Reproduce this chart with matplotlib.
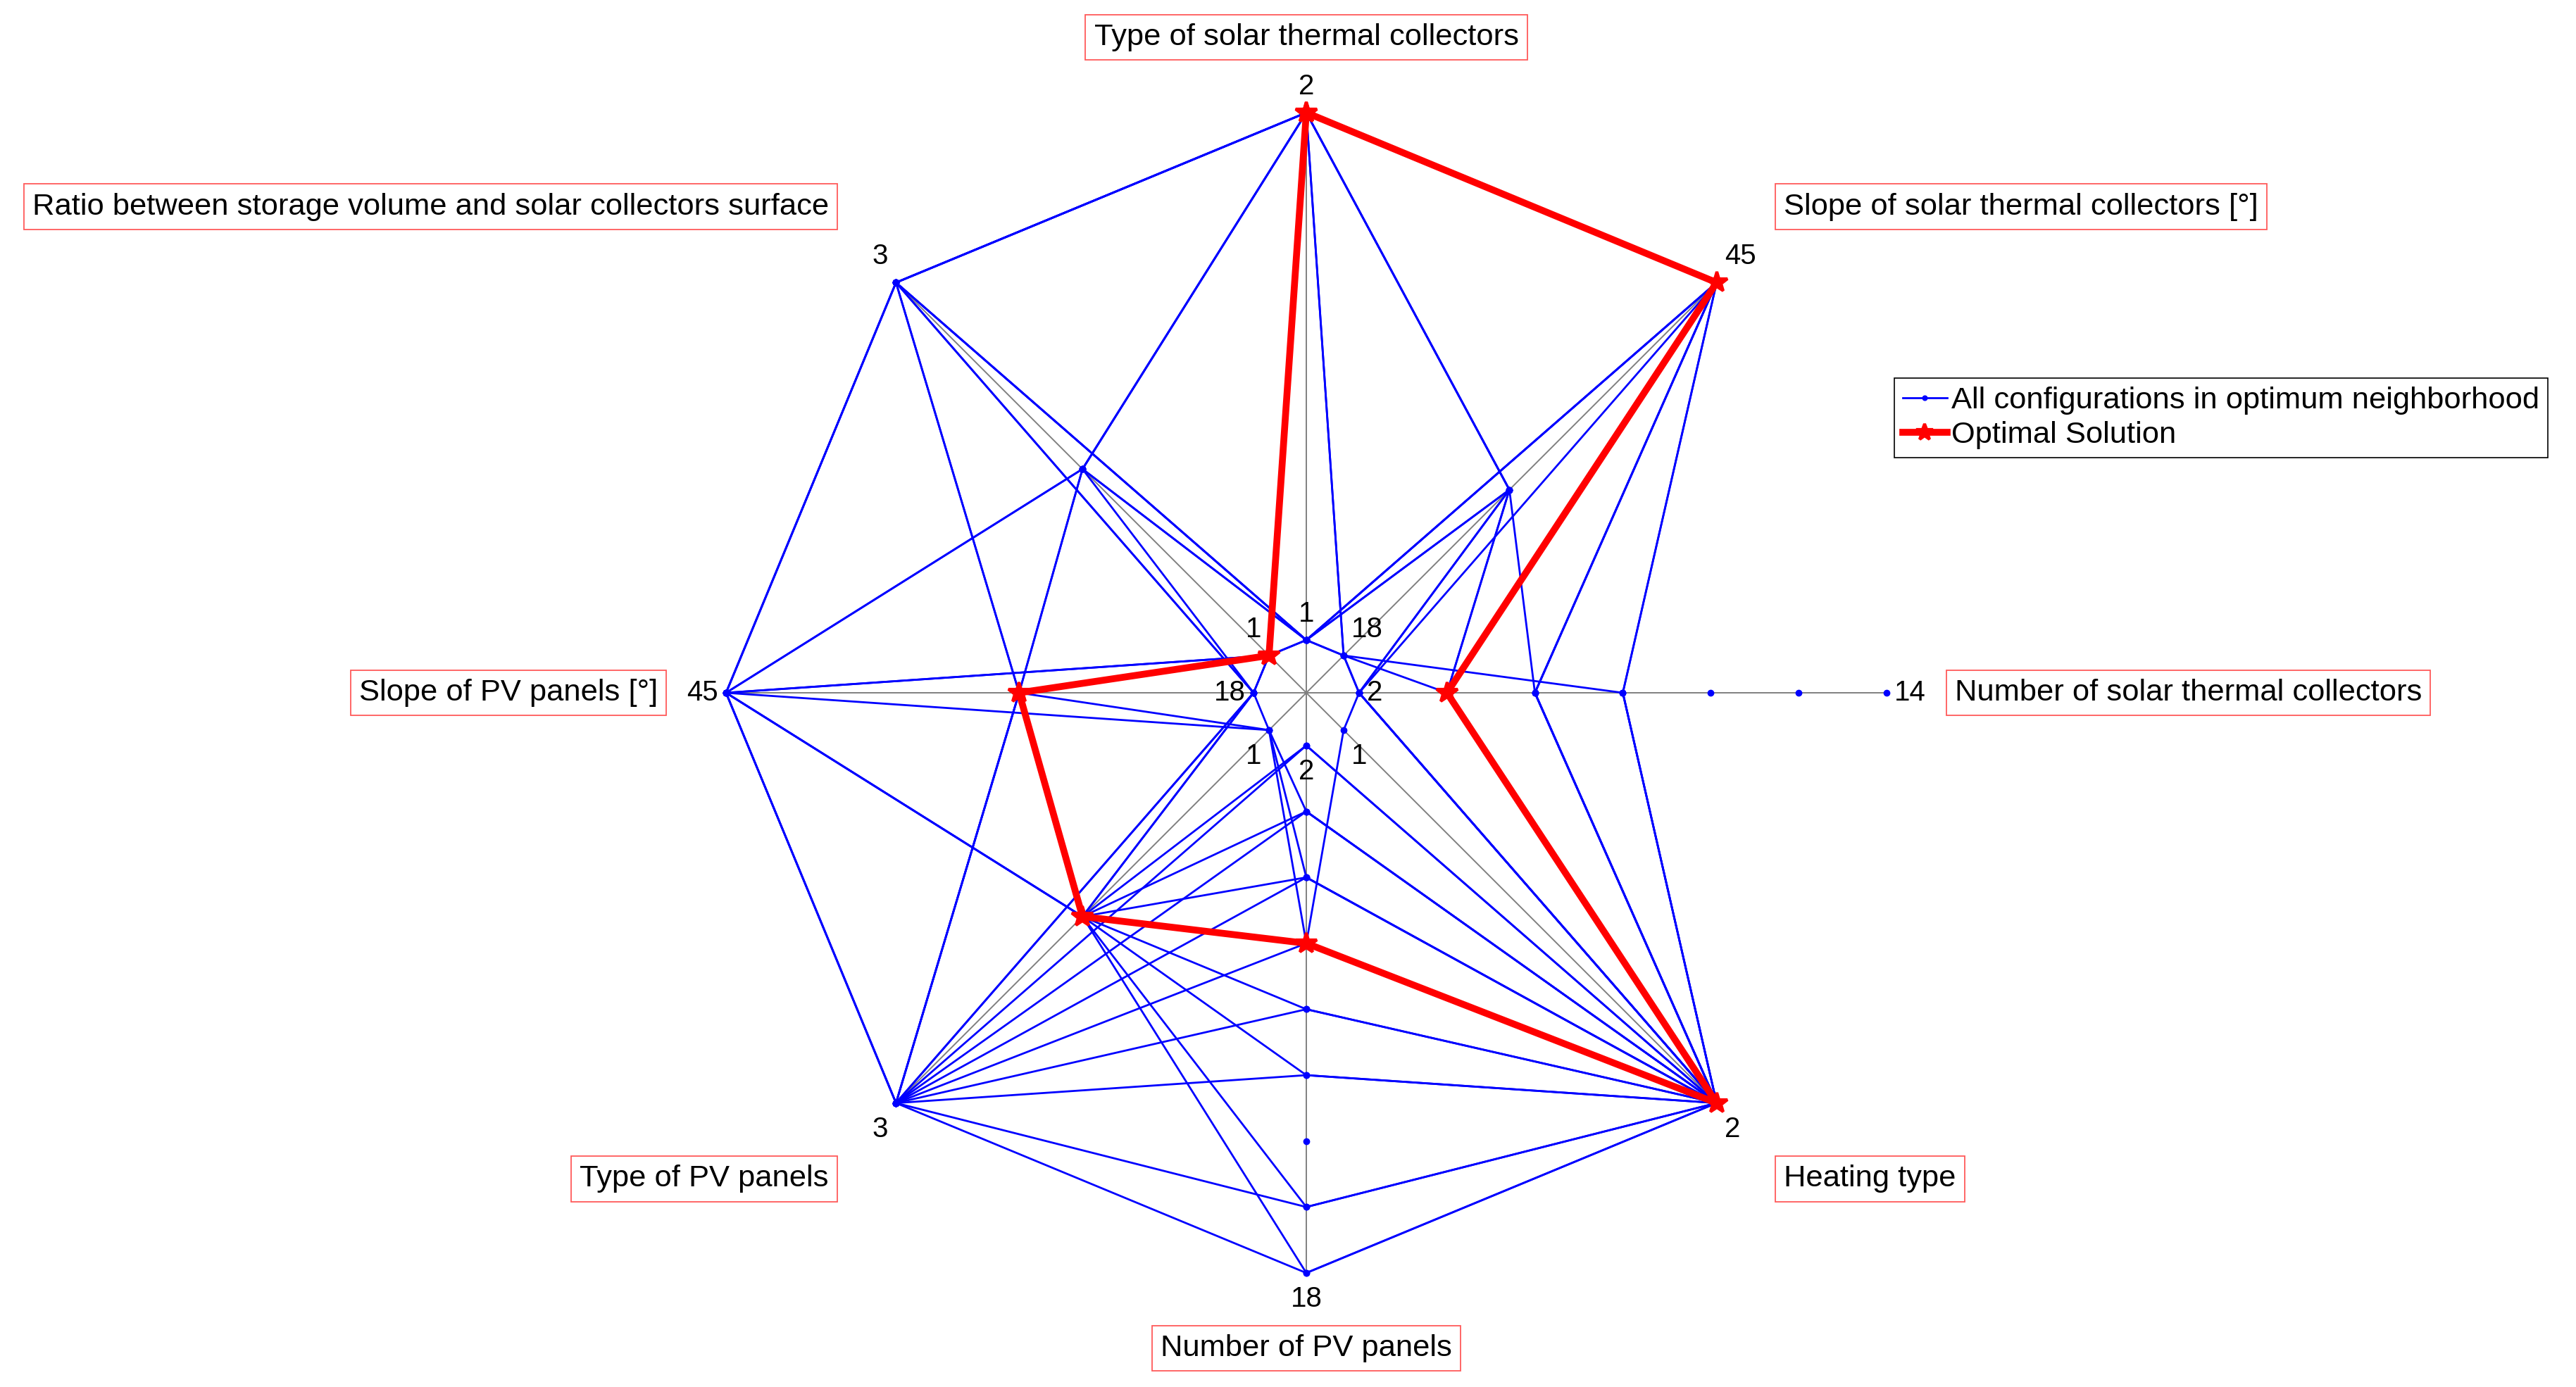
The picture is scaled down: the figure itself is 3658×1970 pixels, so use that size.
import numpy as np
import matplotlib
matplotlib.use("Agg")
import matplotlib.pyplot as plt
from matplotlib import font_manager

# spider chart of the configurations around the optimum

axis_names = ["Type of solar thermal collectors",
              "Slope of solar thermal collectors [°]",
              "Number of solar thermal collectors",
              "Heating type",
              "Number of PV panels",
              "Type of PV panels",
              "Slope of PV panels [°]",
              "Ratio between storage volume and solar collectors surface"]
axis_min = [1, 18, 2, 1, 2, 1, 18, 1]
axis_max = [2, 45, 14, 2, 18, 3, 45, 3]

# blue configurations, one list per variable
type_stc  = [1, 1, 2, 2, 1, 2, 1, 2, 1, 2, 2, 2, 1, 2, 2, 2, 2, 1]
slope_stc = [18, 45, 30, 18, 30, 45, 18, 30, 45, 45, 45, 18, 30, 45, 45, 30, 45, 45]
n_stc     = [2, 6, 4, 8, 2, 2, 4, 6, 8, 4, 6, 2, 4, 8, 4, 2, 6, 4]
heating   = [1, 2, 2, 2, 2, 2, 2, 2, 2, 2, 2, 2, 2, 2, 2, 2, 2, 2]
n_pv      = [8, 4, 6, 2, 4, 6, 8, 10, 12, 16, 18, 2, 4, 6, 10, 12, 16, 18]
type_pv   = [1, 1, 1, 3, 3, 3, 3, 3, 3, 3, 3, 2, 2, 2, 2, 2, 2, 2]
slope_pv  = [18, 45, 30, 45, 18, 30, 45, 18, 30, 45, 30, 18, 45, 30, 18, 45, 30, 45]
ratio     = [1, 3, 2, 2, 3, 3, 1, 2, 2, 3, 1, 1, 2, 3, 3, 1, 1, 3]

# optimal solution
optimum = [2, 45, 4, 2, 8, 2, 30, 1]

# single markers without lines (axis index, value)
extra_axis = [2, 2, 2, 4]
extra_val = [10, 12, 14, 14]

names = {f.name for f in font_manager.fontManager.ttflist}
if "Liberation Sans Narrow" in names:
    fam = "Liberation Sans Narrow"
    fs_lab, fs_tick = 38, 34
else:
    fam = "Liberation Sans"
    fs_lab, fs_tick = 31.3, 29
plt.rcParams['font.family'] = [fam, 'DejaVu Sans']

n_ax = len(axis_names)
ang = np.deg2rad(90 - 45 * np.arange(n_ax))
lo = np.array(axis_min, dtype=float)
hi = np.array(axis_max, dtype=float)
span = hi - lo


def radius(k, v):
    return (v - lo[k] + 0.1 * span[k]) / (1.1 * span[k])


def to_xy(vals, close=True):
    vals = np.asarray(vals, dtype=float)
    r = (vals - lo + 0.1 * span) / (1.1 * span)
    x = r * np.cos(ang)
    y = r * np.sin(ang)
    if close:
        x = np.append(x, x[0])
        y = np.append(y, y[0])
    return x, y


fig = plt.figure(figsize=(36.58, 19.70), dpi=100)
ax = fig.add_axes([0, 0, 1, 1])
R_px = 824.0
cx, cy = 1855.0, 984.0
ax.set_xlim(-cx / R_px, (3658 - cx) / R_px)
ax.set_ylim(-(1970 - cy) / R_px, cy / R_px)
ax.axis('off')

# grey spokes
for a in ang:
    ax.plot([0, np.cos(a)], [0, np.sin(a)], color='0.5', lw=1.4, zorder=1)

configs = np.column_stack([type_stc, slope_stc, n_stc, heating,
                           n_pv, type_pv, slope_pv, ratio])
for i, row in enumerate(configs):
    x, y = to_xy(row)
    ax.plot(x, y, color='blue', lw=2.0, marker='o', ms=6, mec='blue',
            zorder=2, label='All configurations in optimum neighborhood' if i == 0 else None)

ex_r = np.array([radius(k, v) for k, v in zip(extra_axis, extra_val)])
ex_a = ang[extra_axis]
ax.plot(ex_r * np.cos(ex_a), ex_r * np.sin(ex_a), 'o', color='blue', ms=6, zorder=2)

x, y = to_xy(optimum)
ax.plot(x, y, color='red', lw=7, marker='*', ms=22, mec='red', mew=3,
        zorder=3, label='Optimal Solution')

# value labels at the ends of each spoke
for k in range(n_ax):
    c, s = np.cos(ang[k]), np.sin(ang[k])
    if abs(c) < 0.1:
        ha, dx = 'center', 0
    elif c > 0:
        ha, dx = 'left', 11
    else:
        ha, dx = 'right', -11
    dy = 0 if abs(s) < 0.1 else 37 * np.sign(s)
    for v in (axis_min[k], axis_max[k]):
        r = radius(k, v)
        ax.annotate(f"{v:g}", (r * c, r * s), xytext=(dx, dy),
                    textcoords='offset pixels', ha=ha, va='center',
                    fontsize=fs_tick, color='black', zorder=5)

# axis names in red boxes
pad = 0.28
pad_px = pad * fs_lab * 100 / 72
for k in range(n_ax):
    c, s = np.cos(ang[k]), np.sin(ang[k])
    lx = 1.115 * c if abs(c) > 0.9 else 1.16 * c
    ly = 1.13 * s if abs(s) > 0.9 else 1.185 * s
    if abs(c) < 0.1:
        ha, dx = 'center', 0
    elif c > 0:
        ha, dx = 'left', pad_px - 10
    else:
        ha, dx = 'right', -pad_px + 10
    ax.annotate(axis_names[k], (lx, ly), xytext=(dx, 0), textcoords='offset pixels',
                ha=ha, va='center', fontsize=fs_lab, color='black', zorder=6,
                bbox=dict(boxstyle=f'square,pad={pad}', fc='white', ec='#ff5a5a', lw=1.3))

leg = ax.legend(loc='upper right', bbox_to_anchor=(0.9892, 0.7274),
                bbox_transform=fig.transFigure, fontsize=fs_lab, frameon=True,
                fancybox=False, framealpha=1, edgecolor='black', borderaxespad=0,
                borderpad=0.28, handlelength=1.45, handletextpad=0.15, labelspacing=0.2,
                markerscale=0.8)
leg.get_frame().set_linewidth(1.2)

fig.savefig('out.png', dpi=100)
